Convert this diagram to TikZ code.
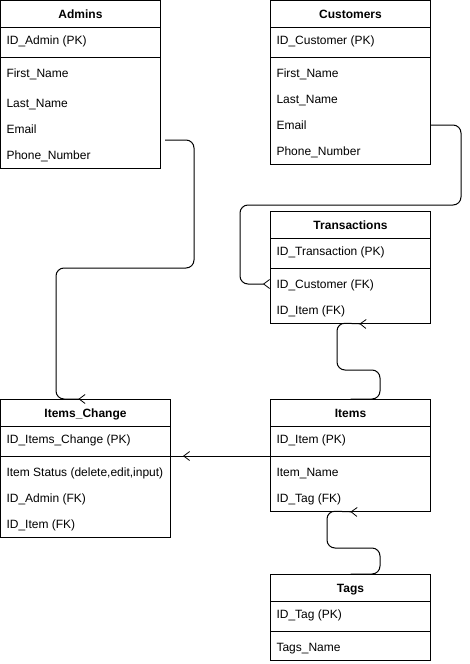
\documentclass[tikz,border=0pt]{standalone}
\usepackage{fontspec}
\setmainfont{Liberation Sans}
\usetikzlibrary{arrows.meta,decorations.markings}

\begin{document}
\begin{tikzpicture}[x=1pt,y=-1pt,line width=1pt,
  font=\fontsize{12}{14}\selectfont,
  tbl/.style={draw,anchor=north west,inner sep=0pt},
  ttl/.style={font=\fontsize{12}{14}\selectfont\bfseries,anchor=base},
  fld/.style={anchor=base west,inner sep=0pt},
  rel/.style={draw,rounded corners=8pt},
  crow/.tip={Straight Barb[reversed,length=6pt,width=9pt,line width=0.8pt]}]
\useasboundingbox (0,0) rectangle (470,664);
% tables: name/x/y/width/height/title/key
\foreach \n/\x/\y/\w/\h/\t/\k in {adm/0/0/160/168/Admins/ID\_Admin (PK),
    cus/270/0/160/164/Customers/ID\_Customer (PK),
    trn/270/211/160/112/Transactions/ID\_Transaction (PK),
    ichg/0/399/170/138/Items\_Change/ID\_Items\_Change (PK),
    itm/270/399/160/112/Items/ID\_Item (PK),
    tag/270/574/160/86/Tags/ID\_Tag (PK)}{
  \node[tbl,minimum width=\w pt,minimum height=\h pt] (\n) at (\x,\y) {};
  \node[ttl] (\n-t) at ([yshift=-18pt]\n.north) {\t};
  \node[fld] (\n-k) at ([xshift=6pt,yshift=-44.5pt]\n.north west) {\k};
  \draw ([yshift=-27pt]\n.north west) -- ([yshift=-27pt]\n.north east);
  \draw ([yshift=-57pt]\n.north west) -- ([yshift=-57pt]\n.north east);
}
% fields (y = middle of the text line)
\foreach \n/\x/\y/\t in {adm1/6/73/First\_Name, adm2/6/103/Last\_Name,
    adm3/6/129/Email, adm4/6/155/Phone\_Number,
    cus1/276/73/First\_Name, cus2/276/99/Last\_Name,
    cus3/276/125/Email, cus4/276/151/Phone\_Number,
    trn1/276/284/ID\_Customer (FK), trn2/276/310/ID\_Item (FK),
    ichg1/6/472/{Item Status (delete,edit,input)}, ichg2/6/498/ID\_Admin (FK),
    ichg3/6/524/ID\_Item (FK),
    itm1/276/472/Item\_Name, itm2/276/498/ID\_Tag (FK),
    tag1/276/647/Tags\_Name}
  \node[fld] (\n) at (\x,\y+4.5) {\t};
% relations
\coordinate (a1) at (165,140);
\draw[rel,-crow] (a1) -| (194,268) -| (56,399) -- (ichg.north);
\draw[rel,-crow] (cus.east |- 0,125) -| (461,205) -| (240,284) -- (trn.west |- 0,284);
\draw[rel,postaction=decorate,decoration={markings,
    mark=at position 87pt with {\arrow{Straight Barb[length=6pt,width=9pt,line width=0.8pt]}}}]
  (itm.west |- 0,456) -- (ichg.east |- 0,456);
\draw[rel,-crow] (itm.north) -| (380,370) -| (337,323) -- ([xshift=16pt]trn.south);
\draw[rel,-crow] (tag.north) -| (380,548) -| (327,511) -- ([xshift=7pt]itm.south);
\end{tikzpicture}
\end{document}
